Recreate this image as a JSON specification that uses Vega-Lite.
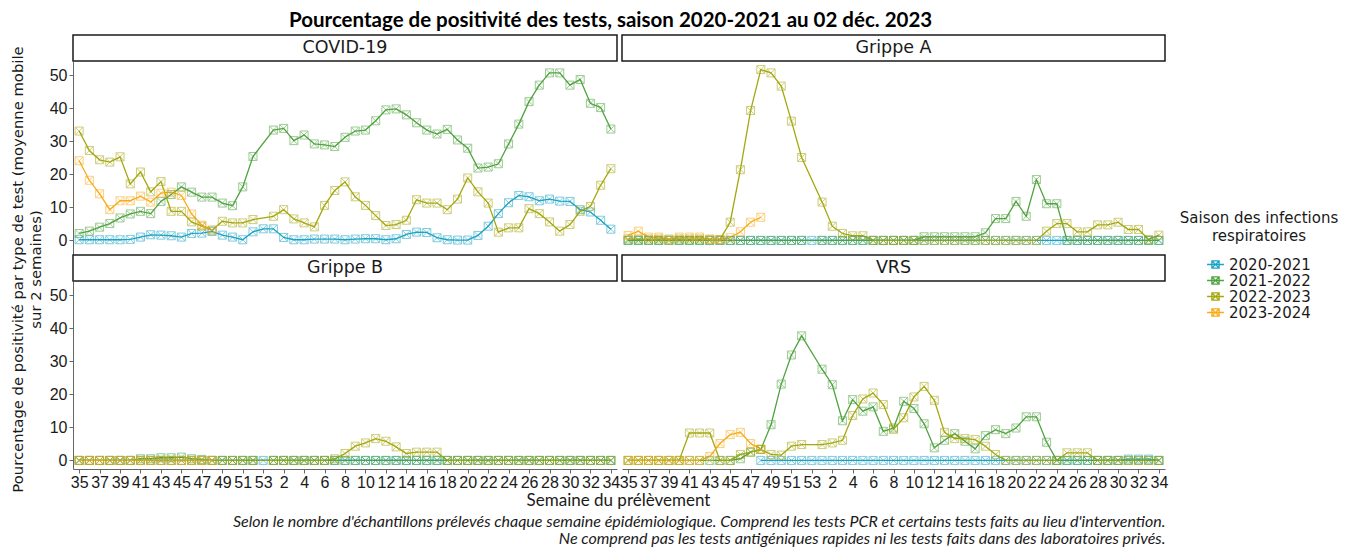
{
"$schema":"https://vega.github.io/schema/vega-lite/v6.json",
"background":"white",
"padding":{"left":10,"top":10,"right":5,"bottom":5},
"title":{"text":"Pourcentage de positivité des tests, saison 2020-2021 au 02 déc. 2023","font":"Lato","fontSize":20.5,"fontWeight":"bold","color":"#000000","anchor":"start","frame":"group","dx":216,"offset":3},
"datasets":{
"covid":[
{"s":"2020-2021","w":35,"v":0.2},{"s":"2020-2021","w":36,"v":0.2},{"s":"2020-2021","w":37,"v":0.2},{"s":"2020-2021","w":38,"v":0.2},{"s":"2020-2021","w":39,"v":0.2},{"s":"2020-2021","w":40,"v":0.3},{"s":"2020-2021","w":41,"v":1.0},{"s":"2020-2021","w":42,"v":1.7},{"s":"2020-2021","w":43,"v":1.6},{"s":"2020-2021","w":44,"v":1.4},{"s":"2020-2021","w":45,"v":1.0},{"s":"2020-2021","w":46,"v":2.1},{"s":"2020-2021","w":47,"v":2.2},{"s":"2020-2021","w":48,"v":2.7},{"s":"2020-2021","w":49,"v":1.6},{"s":"2020-2021","w":50,"v":1.0},{"s":"2020-2021","w":51,"v":0.2},{"s":"2020-2021","w":52,"v":2.6},{"s":"2020-2021","w":53,"v":3.5},
{"s":"2020-2021","w":1,"v":3.5},{"s":"2020-2021","w":2,"v":0.9},{"s":"2020-2021","w":3,"v":0.2},{"s":"2020-2021","w":4,"v":0.2},{"s":"2020-2021","w":5,"v":0.4},{"s":"2020-2021","w":6,"v":0.4},{"s":"2020-2021","w":7,"v":0.4},{"s":"2020-2021","w":8,"v":0.2},{"s":"2020-2021","w":9,"v":0.4},{"s":"2020-2021","w":10,"v":0.5},{"s":"2020-2021","w":11,"v":0.5},{"s":"2020-2021","w":12,"v":0.2},{"s":"2020-2021","w":13,"v":0.5},{"s":"2020-2021","w":14,"v":1.8},{"s":"2020-2021","w":15,"v":2.5},{"s":"2020-2021","w":16,"v":2.4},{"s":"2020-2021","w":17,"v":0.8},{"s":"2020-2021","w":18,"v":0.2},{"s":"2020-2021","w":19,"v":0.1},{"s":"2020-2021","w":20,"v":0.1},{"s":"2020-2021","w":21,"v":1.5},{"s":"2020-2021","w":22,"v":4.3},{"s":"2020-2021","w":23,"v":8.1},{"s":"2020-2021","w":24,"v":11.4},{"s":"2020-2021","w":25,"v":13.6},{"s":"2020-2021","w":26,"v":13.2},{"s":"2020-2021","w":27,"v":12.0},{"s":"2020-2021","w":28,"v":12.5},{"s":"2020-2021","w":29,"v":11.9},{"s":"2020-2021","w":30,"v":11.8},{"s":"2020-2021","w":31,"v":9.3},{"s":"2020-2021","w":32,"v":8.6},{"s":"2020-2021","w":33,"v":6.1},{"s":"2020-2021","w":34,"v":3.4},
{"s":"2021-2022","w":35,"v":2.1},{"s":"2021-2022","w":36,"v":2.8},{"s":"2021-2022","w":37,"v":4.0},{"s":"2021-2022","w":38,"v":5.1},{"s":"2021-2022","w":39,"v":6.8},{"s":"2021-2022","w":40,"v":8.0},{"s":"2021-2022","w":41,"v":8.8},{"s":"2021-2022","w":42,"v":8.1},{"s":"2021-2022","w":43,"v":11.8},{"s":"2021-2022","w":44,"v":13.9},{"s":"2021-2022","w":45,"v":16.2},{"s":"2021-2022","w":46,"v":14.6},{"s":"2021-2022","w":47,"v":13.1},{"s":"2021-2022","w":48,"v":13.1},{"s":"2021-2022","w":49,"v":11.3},{"s":"2021-2022","w":50,"v":10.5},{"s":"2021-2022","w":51,"v":16.2},{"s":"2021-2022","w":52,"v":25.4},
{"s":"2021-2022","w":1,"v":33.4},{"s":"2021-2022","w":2,"v":33.9},{"s":"2021-2022","w":3,"v":30.2},{"s":"2021-2022","w":4,"v":31.9},{"s":"2021-2022","w":5,"v":29.2},{"s":"2021-2022","w":6,"v":28.9},{"s":"2021-2022","w":7,"v":28.4},{"s":"2021-2022","w":8,"v":31.2},{"s":"2021-2022","w":9,"v":33.1},{"s":"2021-2022","w":10,"v":33.4},{"s":"2021-2022","w":11,"v":36.2},{"s":"2021-2022","w":12,"v":39.5},{"s":"2021-2022","w":13,"v":39.8},{"s":"2021-2022","w":14,"v":38.0},{"s":"2021-2022","w":15,"v":35.6},{"s":"2021-2022","w":16,"v":33.4},{"s":"2021-2022","w":17,"v":32.2},{"s":"2021-2022","w":18,"v":33.6},{"s":"2021-2022","w":19,"v":30.4},{"s":"2021-2022","w":20,"v":27.9},{"s":"2021-2022","w":21,"v":21.9},{"s":"2021-2022","w":22,"v":22.2},{"s":"2021-2022","w":23,"v":23.2},{"s":"2021-2022","w":24,"v":29.2},{"s":"2021-2022","w":25,"v":35.2},{"s":"2021-2022","w":26,"v":42.0},{"s":"2021-2022","w":27,"v":47.0},{"s":"2021-2022","w":28,"v":50.7},{"s":"2021-2022","w":29,"v":50.7},{"s":"2021-2022","w":30,"v":47.0},{"s":"2021-2022","w":31,"v":48.7},{"s":"2021-2022","w":32,"v":41.5},{"s":"2021-2022","w":33,"v":40.2},{"s":"2021-2022","w":34,"v":33.7},
{"s":"2022-2023","w":35,"v":33.1},{"s":"2022-2023","w":36,"v":27.2},{"s":"2022-2023","w":37,"v":24.4},{"s":"2022-2023","w":38,"v":23.7},{"s":"2022-2023","w":39,"v":25.3},{"s":"2022-2023","w":40,"v":17.1},{"s":"2022-2023","w":41,"v":20.7},{"s":"2022-2023","w":42,"v":14.7},{"s":"2022-2023","w":43,"v":17.8},{"s":"2022-2023","w":44,"v":8.8},{"s":"2022-2023","w":45,"v":8.8},{"s":"2022-2023","w":46,"v":5.6},{"s":"2022-2023","w":47,"v":4.3},{"s":"2022-2023","w":48,"v":3.1},{"s":"2022-2023","w":49,"v":5.8},{"s":"2022-2023","w":50,"v":5.3},{"s":"2022-2023","w":51,"v":5.3},{"s":"2022-2023","w":52,"v":6.3},
{"s":"2022-2023","w":1,"v":7.3},{"s":"2022-2023","w":2,"v":9.3},{"s":"2022-2023","w":3,"v":6.5},{"s":"2022-2023","w":4,"v":5.3},{"s":"2022-2023","w":5,"v":4.1},{"s":"2022-2023","w":6,"v":10.6},{"s":"2022-2023","w":7,"v":15.1},{"s":"2022-2023","w":8,"v":17.7},{"s":"2022-2023","w":9,"v":13.2},{"s":"2022-2023","w":10,"v":10.6},{"s":"2022-2023","w":11,"v":7.5},{"s":"2022-2023","w":12,"v":4.5},{"s":"2022-2023","w":13,"v":4.8},{"s":"2022-2023","w":14,"v":6.1},{"s":"2022-2023","w":15,"v":12.3},{"s":"2022-2023","w":16,"v":11.3},{"s":"2022-2023","w":17,"v":11.3},{"s":"2022-2023","w":18,"v":9.3},{"s":"2022-2023","w":19,"v":12.5},{"s":"2022-2023","w":20,"v":18.9},{"s":"2022-2023","w":21,"v":14.7},{"s":"2022-2023","w":22,"v":11.3},{"s":"2022-2023","w":23,"v":2.5},{"s":"2022-2023","w":24,"v":3.8},{"s":"2022-2023","w":25,"v":3.8},{"s":"2022-2023","w":26,"v":9.6},{"s":"2022-2023","w":27,"v":8.1},{"s":"2022-2023","w":28,"v":5.6},{"s":"2022-2023","w":29,"v":2.8},{"s":"2022-2023","w":30,"v":4.8},{"s":"2022-2023","w":31,"v":8.8},{"s":"2022-2023","w":32,"v":10.3},{"s":"2022-2023","w":33,"v":16.7},{"s":"2022-2023","w":34,"v":21.7},
{"s":"2023-2024","w":35,"v":24.1},{"s":"2023-2024","w":36,"v":18.2},{"s":"2023-2024","w":37,"v":14.1},{"s":"2023-2024","w":38,"v":9.3},{"s":"2023-2024","w":39,"v":12.0},{"s":"2023-2024","w":40,"v":12.0},{"s":"2023-2024","w":41,"v":13.4},{"s":"2023-2024","w":42,"v":11.6},{"s":"2023-2024","w":43,"v":14.3},{"s":"2023-2024","w":44,"v":14.6},{"s":"2023-2024","w":45,"v":13.6},{"s":"2023-2024","w":46,"v":8.0},{"s":"2023-2024","w":47,"v":4.6},{"s":"2023-2024","w":48,"v":3.1}
],
"grippeA":[
{"s":"2020-2021","w":35,"v":0},{"s":"2020-2021","w":36,"v":0},{"s":"2020-2021","w":37,"v":0},{"s":"2020-2021","w":38,"v":0},{"s":"2020-2021","w":39,"v":0},{"s":"2020-2021","w":40,"v":0},{"s":"2020-2021","w":41,"v":0},{"s":"2020-2021","w":42,"v":0},{"s":"2020-2021","w":43,"v":0},{"s":"2020-2021","w":44,"v":0},{"s":"2020-2021","w":45,"v":0},{"s":"2020-2021","w":46,"v":0},{"s":"2020-2021","w":47,"v":0},{"s":"2020-2021","w":48,"v":0},{"s":"2020-2021","w":49,"v":0},{"s":"2020-2021","w":50,"v":0},{"s":"2020-2021","w":51,"v":0},{"s":"2020-2021","w":52,"v":0},{"s":"2020-2021","w":53,"v":0},
{"s":"2020-2021","w":1,"v":0},{"s":"2020-2021","w":2,"v":0},{"s":"2020-2021","w":3,"v":0},{"s":"2020-2021","w":4,"v":0},{"s":"2020-2021","w":5,"v":0},{"s":"2020-2021","w":6,"v":0},{"s":"2020-2021","w":7,"v":0},{"s":"2020-2021","w":8,"v":0},{"s":"2020-2021","w":9,"v":0},{"s":"2020-2021","w":10,"v":0},{"s":"2020-2021","w":11,"v":0},{"s":"2020-2021","w":12,"v":0},{"s":"2020-2021","w":13,"v":0},{"s":"2020-2021","w":14,"v":0},{"s":"2020-2021","w":15,"v":0},{"s":"2020-2021","w":16,"v":0},{"s":"2020-2021","w":17,"v":0},{"s":"2020-2021","w":18,"v":0},{"s":"2020-2021","w":19,"v":0},{"s":"2020-2021","w":20,"v":0},{"s":"2020-2021","w":21,"v":0},{"s":"2020-2021","w":22,"v":0},{"s":"2020-2021","w":23,"v":0},{"s":"2020-2021","w":24,"v":0},{"s":"2020-2021","w":25,"v":0},{"s":"2020-2021","w":26,"v":0},{"s":"2020-2021","w":27,"v":0},{"s":"2020-2021","w":28,"v":0},{"s":"2020-2021","w":29,"v":0},{"s":"2020-2021","w":30,"v":0},{"s":"2020-2021","w":31,"v":0},{"s":"2020-2021","w":32,"v":0},{"s":"2020-2021","w":33,"v":0},{"s":"2020-2021","w":34,"v":0},
{"s":"2021-2022","w":35,"v":0},{"s":"2021-2022","w":36,"v":0},{"s":"2021-2022","w":37,"v":0},{"s":"2021-2022","w":38,"v":0},{"s":"2021-2022","w":39,"v":0},{"s":"2021-2022","w":40,"v":0},{"s":"2021-2022","w":41,"v":0},{"s":"2021-2022","w":42,"v":0},{"s":"2021-2022","w":43,"v":0},{"s":"2021-2022","w":44,"v":0},{"s":"2021-2022","w":45,"v":0},{"s":"2021-2022","w":46,"v":0},{"s":"2021-2022","w":47,"v":0},{"s":"2021-2022","w":48,"v":0},{"s":"2021-2022","w":49,"v":0},{"s":"2021-2022","w":50,"v":0},{"s":"2021-2022","w":51,"v":0},{"s":"2021-2022","w":52,"v":0},
{"s":"2021-2022","w":1,"v":0},{"s":"2021-2022","w":2,"v":0},{"s":"2021-2022","w":3,"v":0},{"s":"2021-2022","w":4,"v":0},{"s":"2021-2022","w":5,"v":0},{"s":"2021-2022","w":6,"v":0},{"s":"2021-2022","w":7,"v":0},{"s":"2021-2022","w":8,"v":0},{"s":"2021-2022","w":9,"v":0},{"s":"2021-2022","w":10,"v":0},{"s":"2021-2022","w":11,"v":1.1},{"s":"2021-2022","w":12,"v":1.1},{"s":"2021-2022","w":13,"v":1.1},{"s":"2021-2022","w":14,"v":1.1},{"s":"2021-2022","w":15,"v":1.1},{"s":"2021-2022","w":16,"v":1.1},{"s":"2021-2022","w":17,"v":2.3},{"s":"2021-2022","w":18,"v":6.6},{"s":"2021-2022","w":19,"v":6.6},{"s":"2021-2022","w":20,"v":11.8},{"s":"2021-2022","w":21,"v":7.3},{"s":"2021-2022","w":22,"v":18.4},{"s":"2021-2022","w":23,"v":11.1},{"s":"2021-2022","w":24,"v":11.1},{"s":"2021-2022","w":25,"v":0},{"s":"2021-2022","w":26,"v":0},{"s":"2021-2022","w":27,"v":0},{"s":"2021-2022","w":28,"v":0},{"s":"2021-2022","w":29,"v":0},{"s":"2021-2022","w":30,"v":0},{"s":"2021-2022","w":31,"v":0},{"s":"2021-2022","w":32,"v":0},{"s":"2021-2022","w":33,"v":0},{"s":"2021-2022","w":34,"v":0},
{"s":"2022-2023","w":35,"v":0.4},{"s":"2022-2023","w":36,"v":0.4},{"s":"2022-2023","w":37,"v":0.4},{"s":"2022-2023","w":38,"v":0.4},{"s":"2022-2023","w":39,"v":0.4},{"s":"2022-2023","w":40,"v":0.4},{"s":"2022-2023","w":41,"v":0.4},{"s":"2022-2023","w":42,"v":0.4},{"s":"2022-2023","w":43,"v":0.4},{"s":"2022-2023","w":44,"v":0.3},{"s":"2022-2023","w":45,"v":5.5},{"s":"2022-2023","w":46,"v":21.4},{"s":"2022-2023","w":47,"v":39.3},{"s":"2022-2023","w":48,"v":51.7},{"s":"2022-2023","w":49,"v":50.7},{"s":"2022-2023","w":50,"v":46.7},{"s":"2022-2023","w":51,"v":36.1},{"s":"2022-2023","w":52,"v":25.1},
{"s":"2022-2023","w":1,"v":11.6},{"s":"2022-2023","w":2,"v":4.3},{"s":"2022-2023","w":3,"v":2.1},{"s":"2022-2023","w":4,"v":1.4},{"s":"2022-2023","w":5,"v":1.4},{"s":"2022-2023","w":6,"v":0},{"s":"2022-2023","w":7,"v":0},{"s":"2022-2023","w":8,"v":0},{"s":"2022-2023","w":9,"v":0},{"s":"2022-2023","w":10,"v":0},{"s":"2022-2023","w":11,"v":0},{"s":"2022-2023","w":12,"v":0},{"s":"2022-2023","w":13,"v":0},{"s":"2022-2023","w":14,"v":0},{"s":"2022-2023","w":15,"v":0},{"s":"2022-2023","w":16,"v":0},{"s":"2022-2023","w":17,"v":0},{"s":"2022-2023","w":18,"v":0},{"s":"2022-2023","w":19,"v":0},{"s":"2022-2023","w":20,"v":0},{"s":"2022-2023","w":21,"v":0},{"s":"2022-2023","w":22,"v":0},{"s":"2022-2023","w":23,"v":2.8},{"s":"2022-2023","w":24,"v":5.1},{"s":"2022-2023","w":25,"v":5.1},{"s":"2022-2023","w":26,"v":2.6},{"s":"2022-2023","w":27,"v":2.6},{"s":"2022-2023","w":28,"v":4.7},{"s":"2022-2023","w":29,"v":4.7},{"s":"2022-2023","w":30,"v":5.5},{"s":"2022-2023","w":31,"v":3.3},{"s":"2022-2023","w":32,"v":3.3},{"s":"2022-2023","w":33,"v":0.3},{"s":"2022-2023","w":34,"v":1.6},
{"s":"2023-2024","w":35,"v":1.5},{"s":"2023-2024","w":36,"v":2.8},{"s":"2023-2024","w":37,"v":1.0},{"s":"2023-2024","w":38,"v":1.0},{"s":"2023-2024","w":39,"v":0.1},{"s":"2023-2024","w":40,"v":1.0},{"s":"2023-2024","w":41,"v":1.0},{"s":"2023-2024","w":42,"v":1.0},{"s":"2023-2024","w":43,"v":0.2},{"s":"2023-2024","w":44,"v":0.2},{"s":"2023-2024","w":45,"v":0.8},{"s":"2023-2024","w":46,"v":2.6},{"s":"2023-2024","w":47,"v":5.5},{"s":"2023-2024","w":48,"v":7.0}
],
"grippeB":[
{"s":"2020-2021","w":35,"v":0},{"s":"2020-2021","w":36,"v":0},{"s":"2020-2021","w":37,"v":0},{"s":"2020-2021","w":38,"v":0},{"s":"2020-2021","w":39,"v":0},{"s":"2020-2021","w":40,"v":0},{"s":"2020-2021","w":41,"v":0},{"s":"2020-2021","w":42,"v":0},{"s":"2020-2021","w":43,"v":0},{"s":"2020-2021","w":44,"v":0},{"s":"2020-2021","w":45,"v":0},{"s":"2020-2021","w":46,"v":0},{"s":"2020-2021","w":47,"v":0},{"s":"2020-2021","w":48,"v":0},{"s":"2020-2021","w":49,"v":0},{"s":"2020-2021","w":50,"v":0},{"s":"2020-2021","w":51,"v":0},{"s":"2020-2021","w":52,"v":0},{"s":"2020-2021","w":53,"v":0},
{"s":"2020-2021","w":1,"v":0},{"s":"2020-2021","w":2,"v":0},{"s":"2020-2021","w":3,"v":0},{"s":"2020-2021","w":4,"v":0},{"s":"2020-2021","w":5,"v":0},{"s":"2020-2021","w":6,"v":0},{"s":"2020-2021","w":7,"v":0},{"s":"2020-2021","w":8,"v":0},{"s":"2020-2021","w":9,"v":0},{"s":"2020-2021","w":10,"v":0},{"s":"2020-2021","w":11,"v":0},{"s":"2020-2021","w":12,"v":0},{"s":"2020-2021","w":13,"v":0},{"s":"2020-2021","w":14,"v":0},{"s":"2020-2021","w":15,"v":0},{"s":"2020-2021","w":16,"v":0},{"s":"2020-2021","w":17,"v":0},{"s":"2020-2021","w":18,"v":0},{"s":"2020-2021","w":19,"v":0},{"s":"2020-2021","w":20,"v":0},{"s":"2020-2021","w":21,"v":0},{"s":"2020-2021","w":22,"v":0},{"s":"2020-2021","w":23,"v":0},{"s":"2020-2021","w":24,"v":0},{"s":"2020-2021","w":25,"v":0},{"s":"2020-2021","w":26,"v":0},{"s":"2020-2021","w":27,"v":0},{"s":"2020-2021","w":28,"v":0},{"s":"2020-2021","w":29,"v":0},{"s":"2020-2021","w":30,"v":0},{"s":"2020-2021","w":31,"v":0},{"s":"2020-2021","w":32,"v":0},{"s":"2020-2021","w":33,"v":0},{"s":"2020-2021","w":34,"v":0},
{"s":"2021-2022","w":35,"v":0},{"s":"2021-2022","w":36,"v":0},{"s":"2021-2022","w":37,"v":0},{"s":"2021-2022","w":38,"v":0},{"s":"2021-2022","w":39,"v":0},{"s":"2021-2022","w":40,"v":0},{"s":"2021-2022","w":41,"v":0.5},{"s":"2021-2022","w":42,"v":0.5},{"s":"2021-2022","w":43,"v":0.8},{"s":"2021-2022","w":44,"v":0.8},{"s":"2021-2022","w":45,"v":1.0},{"s":"2021-2022","w":46,"v":0.5},{"s":"2021-2022","w":47,"v":0.3},{"s":"2021-2022","w":48,"v":0},{"s":"2021-2022","w":49,"v":0},{"s":"2021-2022","w":50,"v":0},{"s":"2021-2022","w":51,"v":0},{"s":"2021-2022","w":52,"v":0},
{"s":"2021-2022","w":1,"v":0},{"s":"2021-2022","w":2,"v":0},{"s":"2021-2022","w":3,"v":0},{"s":"2021-2022","w":4,"v":0},{"s":"2021-2022","w":5,"v":0},{"s":"2021-2022","w":6,"v":0},{"s":"2021-2022","w":7,"v":0},{"s":"2021-2022","w":8,"v":0},{"s":"2021-2022","w":9,"v":0},{"s":"2021-2022","w":10,"v":0},{"s":"2021-2022","w":11,"v":0},{"s":"2021-2022","w":12,"v":0},{"s":"2021-2022","w":13,"v":0},{"s":"2021-2022","w":14,"v":0},{"s":"2021-2022","w":15,"v":0},{"s":"2021-2022","w":16,"v":0},{"s":"2021-2022","w":17,"v":0},{"s":"2021-2022","w":18,"v":0},{"s":"2021-2022","w":19,"v":0},{"s":"2021-2022","w":20,"v":0},{"s":"2021-2022","w":21,"v":0},{"s":"2021-2022","w":22,"v":0},{"s":"2021-2022","w":23,"v":0},{"s":"2021-2022","w":24,"v":0},{"s":"2021-2022","w":25,"v":0},{"s":"2021-2022","w":26,"v":0},{"s":"2021-2022","w":27,"v":0},{"s":"2021-2022","w":28,"v":0},{"s":"2021-2022","w":29,"v":0},{"s":"2021-2022","w":30,"v":0},{"s":"2021-2022","w":31,"v":0},{"s":"2021-2022","w":32,"v":0},{"s":"2021-2022","w":33,"v":0},{"s":"2021-2022","w":34,"v":0},
{"s":"2022-2023","w":35,"v":0},{"s":"2022-2023","w":36,"v":0},{"s":"2022-2023","w":37,"v":0},{"s":"2022-2023","w":38,"v":0},{"s":"2022-2023","w":39,"v":0},{"s":"2022-2023","w":40,"v":0},{"s":"2022-2023","w":41,"v":0},{"s":"2022-2023","w":42,"v":0},{"s":"2022-2023","w":43,"v":0},{"s":"2022-2023","w":44,"v":0},{"s":"2022-2023","w":45,"v":0},{"s":"2022-2023","w":46,"v":0},{"s":"2022-2023","w":47,"v":0},{"s":"2022-2023","w":48,"v":0},{"s":"2022-2023","w":49,"v":0},{"s":"2022-2023","w":50,"v":0},{"s":"2022-2023","w":51,"v":0},{"s":"2022-2023","w":52,"v":0},
{"s":"2022-2023","w":1,"v":0},{"s":"2022-2023","w":2,"v":0},{"s":"2022-2023","w":3,"v":0},{"s":"2022-2023","w":4,"v":0},{"s":"2022-2023","w":5,"v":0},{"s":"2022-2023","w":6,"v":0},{"s":"2022-2023","w":7,"v":0.5},{"s":"2022-2023","w":8,"v":2.1},{"s":"2022-2023","w":9,"v":4.3},{"s":"2022-2023","w":10,"v":5.3},{"s":"2022-2023","w":11,"v":6.6},{"s":"2022-2023","w":12,"v":5.8},{"s":"2022-2023","w":13,"v":4.1},{"s":"2022-2023","w":14,"v":2.1},{"s":"2022-2023","w":15,"v":2.5},{"s":"2022-2023","w":16,"v":2.5},{"s":"2022-2023","w":17,"v":2.5},{"s":"2022-2023","w":18,"v":0},{"s":"2022-2023","w":19,"v":0},{"s":"2022-2023","w":20,"v":0},{"s":"2022-2023","w":21,"v":0},{"s":"2022-2023","w":22,"v":0},{"s":"2022-2023","w":23,"v":0},{"s":"2022-2023","w":24,"v":0},{"s":"2022-2023","w":25,"v":0},{"s":"2022-2023","w":26,"v":0},{"s":"2022-2023","w":27,"v":0},{"s":"2022-2023","w":28,"v":0},{"s":"2022-2023","w":29,"v":0},{"s":"2022-2023","w":30,"v":0},{"s":"2022-2023","w":31,"v":0},{"s":"2022-2023","w":32,"v":0},{"s":"2022-2023","w":33,"v":0},{"s":"2022-2023","w":34,"v":0},
{"s":"2023-2024","w":35,"v":0},{"s":"2023-2024","w":36,"v":0},{"s":"2023-2024","w":37,"v":0},{"s":"2023-2024","w":38,"v":0},{"s":"2023-2024","w":39,"v":0},{"s":"2023-2024","w":40,"v":0},{"s":"2023-2024","w":41,"v":0},{"s":"2023-2024","w":42,"v":0},{"s":"2023-2024","w":43,"v":0},{"s":"2023-2024","w":44,"v":0},{"s":"2023-2024","w":45,"v":0},{"s":"2023-2024","w":46,"v":0},{"s":"2023-2024","w":47,"v":0},{"s":"2023-2024","w":48,"v":0}
],
"vrs":[
{"s":"2020-2021","w":48,"v":0},{"s":"2020-2021","w":49,"v":0},{"s":"2020-2021","w":50,"v":0},{"s":"2020-2021","w":51,"v":0},{"s":"2020-2021","w":52,"v":0},{"s":"2020-2021","w":53,"v":0},
{"s":"2020-2021","w":1,"v":0},{"s":"2020-2021","w":2,"v":0},{"s":"2020-2021","w":3,"v":0},{"s":"2020-2021","w":4,"v":0},{"s":"2020-2021","w":5,"v":0},{"s":"2020-2021","w":6,"v":0},{"s":"2020-2021","w":7,"v":0},{"s":"2020-2021","w":8,"v":0},{"s":"2020-2021","w":9,"v":0},{"s":"2020-2021","w":10,"v":0},{"s":"2020-2021","w":11,"v":0},{"s":"2020-2021","w":12,"v":0},{"s":"2020-2021","w":13,"v":0},{"s":"2020-2021","w":14,"v":0},{"s":"2020-2021","w":15,"v":0},{"s":"2020-2021","w":16,"v":0},{"s":"2020-2021","w":17,"v":0},{"s":"2020-2021","w":18,"v":0},{"s":"2020-2021","w":19,"v":0},{"s":"2020-2021","w":20,"v":0},{"s":"2020-2021","w":21,"v":0},{"s":"2020-2021","w":22,"v":0},{"s":"2020-2021","w":23,"v":0},{"s":"2020-2021","w":24,"v":0},{"s":"2020-2021","w":25,"v":0},{"s":"2020-2021","w":26,"v":0},{"s":"2020-2021","w":27,"v":0},{"s":"2020-2021","w":28,"v":0},{"s":"2020-2021","w":29,"v":0},{"s":"2020-2021","w":30,"v":0},{"s":"2020-2021","w":31,"v":0.4},{"s":"2020-2021","w":32,"v":0.4},{"s":"2020-2021","w":33,"v":0.4},{"s":"2020-2021","w":34,"v":0},
{"s":"2021-2022","w":35,"v":0},{"s":"2021-2022","w":36,"v":0},{"s":"2021-2022","w":37,"v":0},{"s":"2021-2022","w":38,"v":0},{"s":"2021-2022","w":39,"v":0},{"s":"2021-2022","w":40,"v":0},{"s":"2021-2022","w":41,"v":0},{"s":"2021-2022","w":42,"v":0},{"s":"2021-2022","w":43,"v":0},{"s":"2021-2022","w":44,"v":0},{"s":"2021-2022","w":45,"v":0},{"s":"2021-2022","w":46,"v":0.5},{"s":"2021-2022","w":47,"v":2.5},{"s":"2021-2022","w":48,"v":3.3},{"s":"2021-2022","w":49,"v":10.8},{"s":"2021-2022","w":50,"v":23.1},{"s":"2021-2022","w":51,"v":31.9},{"s":"2021-2022","w":52,"v":37.7},
{"s":"2021-2022","w":1,"v":27.6},{"s":"2021-2022","w":2,"v":22.9},{"s":"2021-2022","w":3,"v":12.0},{"s":"2021-2022","w":4,"v":18.4},{"s":"2021-2022","w":5,"v":14.9},{"s":"2021-2022","w":6,"v":16.2},{"s":"2021-2022","w":7,"v":8.8},{"s":"2021-2022","w":8,"v":9.8},{"s":"2021-2022","w":9,"v":17.9},{"s":"2021-2022","w":10,"v":15.7},{"s":"2021-2022","w":11,"v":11.1},{"s":"2021-2022","w":12,"v":3.8},{"s":"2021-2022","w":13,"v":6.1},{"s":"2021-2022","w":14,"v":8.1},{"s":"2021-2022","w":15,"v":5.8},{"s":"2021-2022","w":16,"v":3.5},{"s":"2021-2022","w":17,"v":7.5},{"s":"2021-2022","w":18,"v":9.3},{"s":"2021-2022","w":19,"v":8.1},{"s":"2021-2022","w":20,"v":9.8},{"s":"2021-2022","w":21,"v":13.2},{"s":"2021-2022","w":22,"v":13.2},{"s":"2021-2022","w":23,"v":5.5},{"s":"2021-2022","w":24,"v":0},{"s":"2021-2022","w":25,"v":0},{"s":"2021-2022","w":26,"v":0},{"s":"2021-2022","w":27,"v":0},{"s":"2021-2022","w":28,"v":0},{"s":"2021-2022","w":29,"v":0},{"s":"2021-2022","w":30,"v":0},{"s":"2021-2022","w":31,"v":0},{"s":"2021-2022","w":32,"v":0},{"s":"2021-2022","w":33,"v":0},{"s":"2021-2022","w":34,"v":0},
{"s":"2022-2023","w":35,"v":0},{"s":"2022-2023","w":36,"v":0},{"s":"2022-2023","w":37,"v":0},{"s":"2022-2023","w":38,"v":0},{"s":"2022-2023","w":39,"v":0},{"s":"2022-2023","w":40,"v":0},{"s":"2022-2023","w":41,"v":8.3},{"s":"2022-2023","w":42,"v":8.3},{"s":"2022-2023","w":43,"v":8.3},{"s":"2022-2023","w":44,"v":0},{"s":"2022-2023","w":45,"v":0},{"s":"2022-2023","w":46,"v":1.8},{"s":"2022-2023","w":47,"v":2.5},{"s":"2022-2023","w":48,"v":3.3},{"s":"2022-2023","w":49,"v":1.8},{"s":"2022-2023","w":50,"v":1.6},{"s":"2022-2023","w":51,"v":4.3},{"s":"2022-2023","w":52,"v":4.8},
{"s":"2022-2023","w":1,"v":4.8},{"s":"2022-2023","w":2,"v":5.3},{"s":"2022-2023","w":3,"v":6.1},{"s":"2022-2023","w":4,"v":13.6},{"s":"2022-2023","w":5,"v":18.6},{"s":"2022-2023","w":6,"v":20.4},{"s":"2022-2023","w":7,"v":16.9},{"s":"2022-2023","w":8,"v":9.4},{"s":"2022-2023","w":9,"v":12.9},{"s":"2022-2023","w":10,"v":19.2},{"s":"2022-2023","w":11,"v":22.4},{"s":"2022-2023","w":12,"v":18.2},{"s":"2022-2023","w":13,"v":8.5},{"s":"2022-2023","w":14,"v":6.6},{"s":"2022-2023","w":15,"v":6.6},{"s":"2022-2023","w":16,"v":6.3},{"s":"2022-2023","w":17,"v":4.3},{"s":"2022-2023","w":18,"v":1.8},{"s":"2022-2023","w":19,"v":0},{"s":"2022-2023","w":20,"v":0},{"s":"2022-2023","w":21,"v":0},{"s":"2022-2023","w":22,"v":0},{"s":"2022-2023","w":23,"v":0},{"s":"2022-2023","w":24,"v":0},{"s":"2022-2023","w":25,"v":2.3},{"s":"2022-2023","w":26,"v":2.3},{"s":"2022-2023","w":27,"v":2.3},{"s":"2022-2023","w":28,"v":0},{"s":"2022-2023","w":29,"v":0},{"s":"2022-2023","w":30,"v":0},{"s":"2022-2023","w":31,"v":0},{"s":"2022-2023","w":32,"v":0},{"s":"2022-2023","w":33,"v":0},{"s":"2022-2023","w":34,"v":0},
{"s":"2023-2024","w":35,"v":0},{"s":"2023-2024","w":36,"v":0},{"s":"2023-2024","w":37,"v":0},{"s":"2023-2024","w":38,"v":0},{"s":"2023-2024","w":39,"v":0},{"s":"2023-2024","w":40,"v":0},{"s":"2023-2024","w":41,"v":0},{"s":"2023-2024","w":42,"v":0},{"s":"2023-2024","w":43,"v":1.2},{"s":"2023-2024","w":44,"v":5.1},{"s":"2023-2024","w":45,"v":7.8},{"s":"2023-2024","w":46,"v":8.5},{"s":"2023-2024","w":47,"v":5.1},{"s":"2023-2024","w":48,"v":3.5}
]
},
"concat":[
{"width":544,"height":26,"data":{"values":[{"panel":"COVID-19"}]},"mark":{"type":"text","font":"DejaVu Sans","fontSize":17.5,"color":"#1a1a1a"},"encoding":{"text":{"field":"panel","type":"nominal"}},"view":{"stroke":"#1a1a1a","strokeWidth":1.5,"fill":"white"}},
{"width":543,"height":26,"data":{"values":[{"panel":"Grippe A"}]},"mark":{"type":"text","font":"DejaVu Sans","fontSize":17.5,"color":"#1a1a1a"},"encoding":{"text":{"field":"panel","type":"nominal"}},"view":{"stroke":"#1a1a1a","strokeWidth":1.5,"fill":"white"}},
{"width":544,"height":194,"data":{"name":"covid"},
"encoding":{
"x":{"field":"w","type":"ordinal","sort":[35,36,37,38,39,40,41,42,43,44,45,46,47,48,49,50,51,52,53,1,2,3,4,5,6,7,8,9,10,11,12,13,14,15,16,17,18,19,20,21,22,23,24,25,26,27,28,29,30,31,32,33,34],"scale":{"type":"point","domain":[35,36,37,38,39,40,41,42,43,44,45,46,47,48,49,50,51,52,53,1,2,3,4,5,6,7,8,9,10,11,12,13,14,15,16,17,18,19,20,21,22,23,24,25,26,27,28,29,30,31,32,33,34],"padding":0.6},"axis":null},
"y":{"field":"v","type":"quantitative","scale":{"domain":[-4.42,54.3],"nice":false,"zero":false},"axis":{"values":[0,10,20,30,40,50],"title":["Pourcentage de positivité par type de test (moyenne mobile","sur 2 semaines)"],"titleY":208,"titleFont":"DejaVu Sans","titleFontSize":14.8,"titleLineHeight":18,"titlePadding":6}},
"color":{"field":"s","type":"nominal","scale":{"domain":["2020-2021","2021-2022","2022-2023","2023-2024"],"range":["#1aa3c4","#4ea33e","#a5a70e","#f8ab18"]},"legend":{"orient":"none","legendX":1107,"legendY":176,"title":["Saison des infections","respiratoires"]}}
},
"layer":[
{"mark":{"type":"line","strokeWidth":1.3}},
{"mark":{"type":"point","shape":"M-1,-1L1,-1L1,1L-1,1Z M-1,-1L1,1 M1,-1L-1,1","size":64,"filled":false,"strokeWidth":1,"opacity":0.55}}
]},
{"width":543,"height":194,"data":{"name":"grippeA"},
"encoding":{
"x":{"field":"w","type":"ordinal","sort":[35,36,37,38,39,40,41,42,43,44,45,46,47,48,49,50,51,52,53,1,2,3,4,5,6,7,8,9,10,11,12,13,14,15,16,17,18,19,20,21,22,23,24,25,26,27,28,29,30,31,32,33,34],"scale":{"type":"point","domain":[35,36,37,38,39,40,41,42,43,44,45,46,47,48,49,50,51,52,53,1,2,3,4,5,6,7,8,9,10,11,12,13,14,15,16,17,18,19,20,21,22,23,24,25,26,27,28,29,30,31,32,33,34],"padding":0.6},"axis":null},
"y":{"field":"v","type":"quantitative","scale":{"domain":[-4.42,54.3],"nice":false,"zero":false},"axis":null},
"color":{"field":"s","type":"nominal","scale":{"domain":["2020-2021","2021-2022","2022-2023","2023-2024"],"range":["#1aa3c4","#4ea33e","#a5a70e","#f8ab18"]},"legend":{"orient":"none","legendX":1107,"legendY":176,"title":["Saison des infections","respiratoires"]}}
},
"layer":[
{"mark":{"type":"line","strokeWidth":1.3}},
{"mark":{"type":"point","shape":"M-1,-1L1,-1L1,1L-1,1Z M-1,-1L1,1 M1,-1L-1,1","size":64,"filled":false,"strokeWidth":1,"opacity":0.55}}
]},
{"width":544,"height":26,"data":{"values":[{"panel":"Grippe B"}]},"mark":{"type":"text","font":"DejaVu Sans","fontSize":17.5,"color":"#1a1a1a"},"encoding":{"text":{"field":"panel","type":"nominal"}},"view":{"stroke":"#1a1a1a","strokeWidth":1.5,"fill":"white"}},
{"width":543,"height":26,"data":{"values":[{"panel":"VRS"}]},"mark":{"type":"text","font":"DejaVu Sans","fontSize":17.5,"color":"#1a1a1a"},"encoding":{"text":{"field":"panel","type":"nominal"}},"view":{"stroke":"#1a1a1a","strokeWidth":1.5,"fill":"white"}},
{"width":544,"height":188,"data":{"name":"grippeB"},
"encoding":{
"x":{"field":"w","type":"ordinal","sort":[35,36,37,38,39,40,41,42,43,44,45,46,47,48,49,50,51,52,53,1,2,3,4,5,6,7,8,9,10,11,12,13,14,15,16,17,18,19,20,21,22,23,24,25,26,27,28,29,30,31,32,33,34],"scale":{"type":"point","domain":[35,36,37,38,39,40,41,42,43,44,45,46,47,48,49,50,51,52,53,1,2,3,4,5,6,7,8,9,10,11,12,13,14,15,16,17,18,19,20,21,22,23,24,25,26,27,28,29,30,31,32,33,34],"padding":0.6},"axis":{"values":[35,37,39,41,43,45,47,49,51,53,2,4,6,8,10,12,14,16,18,20,22,24,26,28,30,32,34],"labelAngle":0,"labelPadding":1,"title":"Semaine du prélèvement","titleX":545,"titleFont":"Lato","titleFontSize":17,"titlePadding":2}},
"y":{"field":"v","type":"quantitative","scale":{"domain":[-2.6,54.3],"nice":false,"zero":false},"axis":{"values":[0,10,20,30,40,50],"title":null}},
"color":{"field":"s","type":"nominal","scale":{"domain":["2020-2021","2021-2022","2022-2023","2023-2024"],"range":["#1aa3c4","#4ea33e","#a5a70e","#f8ab18"]},"legend":{"orient":"none","legendX":1107,"legendY":176,"title":["Saison des infections","respiratoires"]}}
},
"layer":[
{"mark":{"type":"line","strokeWidth":1.3}},
{"mark":{"type":"point","shape":"M-1,-1L1,-1L1,1L-1,1Z M-1,-1L1,1 M1,-1L-1,1","size":64,"filled":false,"strokeWidth":1,"opacity":0.55}}
]},
{"width":543,"height":188,"data":{"name":"vrs"},
"encoding":{
"x":{"field":"w","type":"ordinal","sort":[35,36,37,38,39,40,41,42,43,44,45,46,47,48,49,50,51,52,53,1,2,3,4,5,6,7,8,9,10,11,12,13,14,15,16,17,18,19,20,21,22,23,24,25,26,27,28,29,30,31,32,33,34],"scale":{"type":"point","domain":[35,36,37,38,39,40,41,42,43,44,45,46,47,48,49,50,51,52,53,1,2,3,4,5,6,7,8,9,10,11,12,13,14,15,16,17,18,19,20,21,22,23,24,25,26,27,28,29,30,31,32,33,34],"padding":0.6},"axis":{"values":[35,37,39,41,43,45,47,49,51,53,2,4,6,8,10,12,14,16,18,20,22,24,26,28,30,32,34],"labelAngle":0,"labelPadding":1,"title":["Selon le nombre d'échantillons prélevés chaque semaine épidémiologique. Comprend les tests PCR et certains tests faits au lieu d'intervention.","Ne comprend pas les tests antigéniques rapides ni les tests faits dans des laboratoires privés."],"titleAnchor":"end","titleAlign":"right","titleFont":"Lato","titleFontStyle":"italic","titleFontSize":16,"titleLineHeight":17,"titlePadding":23}},
"y":{"field":"v","type":"quantitative","scale":{"domain":[-2.6,54.3],"nice":false,"zero":false},"axis":null},
"color":{"field":"s","type":"nominal","scale":{"domain":["2020-2021","2021-2022","2022-2023","2023-2024"],"range":["#1aa3c4","#4ea33e","#a5a70e","#f8ab18"]},"legend":{"orient":"none","legendX":1107,"legendY":176,"title":["Saison des infections","respiratoires"]}}
},
"layer":[
{"mark":{"type":"line","strokeWidth":1.3}},
{"mark":{"type":"point","shape":"M-1,-1L1,-1L1,1L-1,1Z M-1,-1L1,1 M1,-1L-1,1","size":64,"filled":false,"strokeWidth":1,"opacity":0.55}}
]}
],
"columns":2,
"spacing":{"row":0,"column":5},
"bounds":"flush",
"config":{
"view":{"stroke":null},
"axis":{"labelFont":"Liberation Sans","labelFontSize":16,"labelColor":"#1a1a1a","domainColor":"#666666","tickColor":"#666666","tickSize":4,"labelPadding":2,"grid":false,"titleColor":"#1a1a1a","titleFontWeight":"normal"},
"legend":{"titleFont":"DejaVu Sans","titleFontSize":15,"titleFontWeight":"normal","titleColor":"#1a1a1a","titleAlign":"center","titleAnchor":"middle","titleLineHeight":18,"titlePadding":13,"labelFont":"DejaVu Sans","labelFontSize":15,"labelColor":"#1a1a1a","symbolType":"M-1.4,0L1.4,0 M-0.6,-0.6L0.6,-0.6L0.6,0.6L-0.6,0.6Z M-0.6,-0.6L0.6,0.6 M0.6,-0.6L-0.6,0.6","symbolSize":144,"symbolStrokeWidth":1.3,"rowPadding":0,"labelOffset":6,"symbolOpacity":1}
}
}
